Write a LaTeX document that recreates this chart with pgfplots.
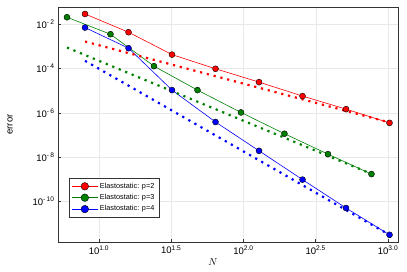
\documentclass[border=0pt]{standalone}
\usepackage{fontspec}
\setmainfont{Liberation Sans}
\usepackage{pgfplots}
\pgfplotsset{compat=1.18}
\definecolor{cred}{RGB}{255,0,0}
\definecolor{cgreen}{RGB}{0,128,0}
\definecolor{cblue}{RGB}{0,0,255}
\begin{document}
\begin{tikzpicture}
\path[use as bounding box] (-58pt,-29pt) rectangle (349pt,242pt);
\begin{axis}[
  scale only axis, width=340pt, height=235pt,
  at={(0,0)}, anchor=south west,
  xmode=log, ymode=log,
  xmin=5.2, xmax=1172, ymin=1.5e-12, ymax=0.06,
  xtick={10,31.6228,100,316.228,1000},
  xticklabels={10\textsuperscript{1.0},10\textsuperscript{1.5},10\textsuperscript{2.0},10\textsuperscript{2.5},10\textsuperscript{3.0}},
  ytick={1e-10,1e-8,1e-6,1e-4,1e-2},
  yticklabels={10\textsuperscript{-\,10},10\textsuperscript{-\,8},10\textsuperscript{-\,6},10\textsuperscript{-\,4},10\textsuperscript{-\,2}},
  minor xtick={}, minor ytick={},
  grid=major, major grid style={draw=black!9, line width=0.5pt},
  tick align=inside, tick pos=left, major tick length=3.5pt,
  tick style={black!80, line width=0.6pt},
  axis line style={black!80, line width=0.8pt},
  ticklabel style={font=\fontsize{9.5}{10}\selectfont},
  xlabel={$N$}, ylabel={error},
  xlabel style={at={(axis description cs:0.456,-0.085)}, anchor=center, font=\fontsize{10}{11}\selectfont},
  ylabel style={at={(axis description cs:-0.141,0.5)}, anchor=center, font=\fontsize{9.5}{10}\selectfont},
  legend style={at={(0.032,0.105)}, anchor=south west, draw=black!80, line width=0.7pt,
    font=\fontsize{7.3}{8}\selectfont, cells={anchor=west}, inner sep=2.5pt, row sep=0.6pt},
  legend image code/.code={\draw[mark repeat=2,mark phase=2,mark size=3.8pt] plot coordinates {(0cm,0cm)(0.45cm,0cm)(0.9cm,0cm)};},
]
\addplot[cred, line width=0.6pt, mark=*, mark size=3pt, mark options={fill=cred, draw=black, line width=0.4pt}]
  coordinates {(8,2.91e-2)(16,4.37e-3)(32,4.27e-4)(64,9.8e-5)(128,2.45e-5)(256,5.75e-6)(512,1.48e-6)(1024,3.55e-7)};
\addlegendentry{Elastostatic: p=2}
\addplot[cgreen, line width=0.6pt, mark=*, mark size=3pt, mark options={fill=cgreen, draw=black, line width=0.4pt}]
  coordinates {(6,2.07e-2)(12,3.55e-3)(24,1.29e-4)(48,1.07e-5)(96,1.05e-6)(192,1.15e-7)(384,1.38e-8)(768,1.74e-9)};
\addlegendentry{Elastostatic: p=3}
\addplot[cblue, line width=0.6pt, mark=*, mark size=3pt, mark options={fill=cblue, draw=black, line width=0.4pt}]
  coordinates {(8,7.08e-3)(16,8.32e-4)(32,1.07e-5)(64,3.89e-7)(128,1.95e-8)(256,9.77e-10)(512,5.13e-11)(1024,3.16e-12)};
\addlegendentry{Elastostatic: p=4}
\addplot[cred, line width=2.2pt, dash pattern=on 2.2pt off 4.8pt, forget plot]
  coordinates {(8,1.66e-3)(1024,3.72e-7)};
\addplot[cgreen, line width=2.2pt, dash pattern=on 2.2pt off 4.8pt, forget plot]
  coordinates {(6,8.9e-4)(768,1.78e-9)};
\addplot[cblue, line width=2.2pt, dash pattern=on 2.2pt off 4.8pt, forget plot]
  coordinates {(8,2.24e-4)(1024,3.16e-12)};
\end{axis}
\end{tikzpicture}
\end{document}
